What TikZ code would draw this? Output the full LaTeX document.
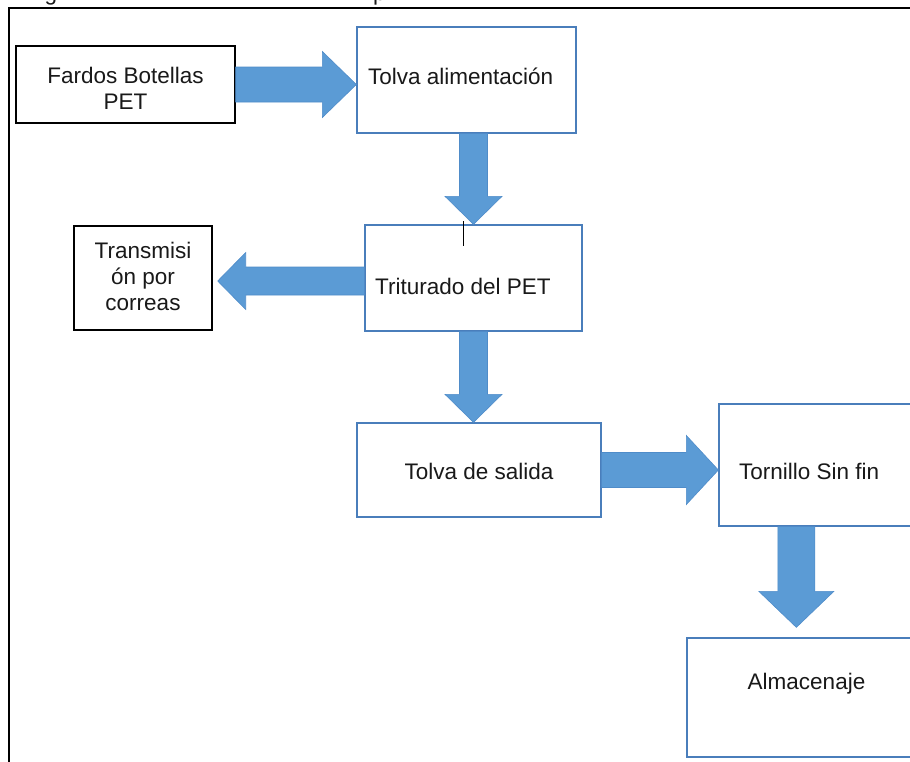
\documentclass[tikz,border=0pt]{standalone}
\usepackage{fontspec}
\setmainfont{Liberation Sans}
\usetikzlibrary{calc}
\definecolor{boxblue}{HTML}{4A7EBB}
\definecolor{arrowblue}{HTML}{5B9BD5}
\definecolor{arrowedge}{HTML}{4F8CC9}
\tikzset{
  bluebox/.style={draw=boxblue, line width=1.3pt, fill=white, inner sep=0pt},
  blackbox/.style={draw=black, line width=1.4pt, fill=white, inner sep=0pt},
  lbl/.style={font=\fontsize{22.5}{26}\selectfont, text=black!90, inner sep=0pt},
  blockarrow/.style={fill=arrowblue, draw=arrowedge, line width=0.6pt},
  frameline/.style={draw=black, line width=2pt},
}
% #1 start, #2 tip, #3 shaft half width, #4 head half width, #5 head length
\newcommand{\myblockarrow}[5]{%
  \coordinate (ba-s) at (#1);
  \coordinate (ba-t) at (#2);
  \coordinate (ba-h) at ($(ba-t)!#5!(ba-s)$);
  \path[blockarrow] ($(ba-s)!#3!90:(ba-t)$) -- ($(ba-h)!#3!-90:(ba-s)$)
    -- ($(ba-h)!#4!-90:(ba-s)$) -- (ba-t) -- ($(ba-h)!#4!90:(ba-s)$)
    -- ($(ba-h)!#3!90:(ba-s)$) -- ($(ba-s)!#3!-90:(ba-t)$) -- cycle;
}
\begin{document}
\begin{tikzpicture}[x=1pt, y=-1pt]
\useasboundingbox (0,0) rectangle (910,761);
\fill[white] (0,0) rectangle (910,761);
\begin{scope}
\clip (0,0) rectangle (910,761);

% clipped caption fragments at the top edge
\begin{scope}
\clip (0,0) rectangle (910,5.5);
\node[lbl, anchor=base] (capg) at (51,0) {g};
\node[lbl, anchor=base west] (capp) at (373,0) {p};
\end{scope}

% frame
\draw[frameline] (9,770) -- (9,8) -- (920,8);

% boxes
\node[blackbox, minimum width=219pt, minimum height=77pt] (fardos) at (125.5,84.5) {};
\node[bluebox, minimum width=219pt, minimum height=106pt] (tolva) at (466.5,80) {};
\node[bluebox, minimum width=217pt, minimum height=106pt] (triturado) at (473.5,278) {};
\node[blackbox, minimum width=138pt, minimum height=104pt] (transm) at (143,278) {};
\node[bluebox, minimum width=244pt, minimum height=94pt] (salida) at (479,470) {};
\node[bluebox, minimum width=200pt, minimum height=122pt] (tornillo) at (819,465) {};
\node[bluebox, minimum width=240pt, minimum height=119pt] (alm) at (807,697.5) {};

% labels
\node[lbl, align=center] (fardosT) at (125.5,88.5) {Fardos Botellas\\PET};
\node[lbl, anchor=base west] (tolvaT) at (368,84) {Tolva alimentación};
\node[lbl, anchor=base west] (triturT) at (375,294) {Triturado del PET};
\node[lbl, align=center] (transmT) at (143,276.8) {Transmisi\\ón por\\correas};
\node[lbl, anchor=base] (salidaT) at (479,479) {Tolva de salida};
\node[lbl, anchor=base west] (tornT) at (739,479) {Tornillo Sin fin};
\node[lbl, anchor=base] (almT) at (806.5,689) {Almacenaje};

% text cursor mark
\draw[black, line width=1pt] (463,221) -- (463,246);

% block arrows
\myblockarrow{fardos.east}{tolva.west |- fardos.east}{17.5pt}{33pt}{34pt}
\myblockarrow{triturado.north |- tolva.south}{triturado.north}{14pt}{28.5pt}{28pt}
\coordinate (a3s) at ($(triturado.west)+(0,3)$);
\coordinate (a3t) at ($(transm.east |- a3s)+(5,0)$);
\myblockarrow{a3s}{a3t}{14pt}{28.5pt}{28pt}
\myblockarrow{triturado.south}{triturado.south |- salida.north}{14pt}{28.5pt}{28pt}
\myblockarrow{salida.east}{tornillo.west |- salida.east}{17.5pt}{34.5pt}{32pt}
\coordinate (a6s) at ($(tornillo.south west)+(78,0)$);
\coordinate (a6t) at ($(a6s |- alm.north)+(0,-10)$);
\myblockarrow{a6s}{a6t}{18.5pt}{37.5pt}{36pt}
\end{scope}
\end{tikzpicture}
\end{document}
